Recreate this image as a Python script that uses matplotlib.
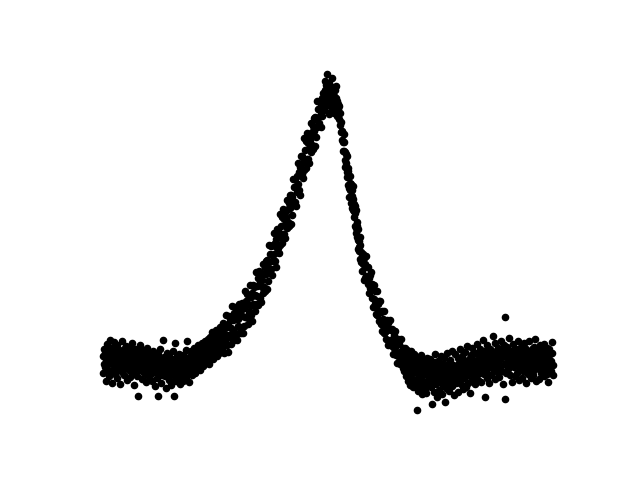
import matplotlib
matplotlib.use("Agg")
import matplotlib.pyplot as plt

# each entry: x position, then the y readings taken at that x
left_base = [
    (0, 55, 38), (1, 62, 47), (2, 44, 58), (3, 51, 30), (4, 67, 49), (5, 41, 56),
    (6, 60, 35), (7, 48, 71), (8, 53, 40), (9, 63, 28), (10, 46, 57), (11, 52, 69),
    (12, 37, 50), (13, 59, 44), (14, 66, 33), (15, 49, 55), (16, 42, 61), (17, 57, 27),
    (18, 45, 52), (19, 70, 39), (20, 54, 47), (21, 36, 62), (22, 58, 43), (23, 50, 65),
    (24, 31, 56), (25, 47, 60), (26, 64, 41), (27, 53, 34), (28, 45, 58), (29, 68, 49),
    (30, 39, 55), (31, 51, 26), (32, 62, 44), (33, 48, 57), (34, 35, 52), (35, 14, 60),
    (36, 46, 41), (37, 58, 66), (38, 43, 50), (39, 55, 32), (40, 49, 61), (41, 38, 53),
    (42, 57, 45), (43, 29, 48), (44, 63, 40), (45, 51, 35), (46, 44, 58), (47, 36, 52),
    (48, 55, 47), (49, 42, 30), (50, 60, 48), (51, 39, 53), (52, 46, 25), (53, 54, 41),
    (54, 33, 49), (55, 14, 57), (56, 45, 38), (57, 51, 62), (58, 28, 44), (59, 48, 36),
    (60, 71, 42), (61, 40, 54), (62, 35, 47), (63, 50, 23), (64, 43, 58), (65, 37, 46),
    (66, 55, 31), (67, 41, 49), (68, 26, 44), (69, 52, 38), (70, 45, 60), (71, 14, 35),
    (72, 68, 47), (73, 40, 30), (74, 49, 55), (75, 33, 43), (76, 57, 38), (77, 44, 27),
    (78, 36, 51), (79, 48, 41), (80, 30, 56), (81, 53, 39), (82, 42, 46), (83, 61, 34),
    (84, 70, 45), (85, 38, 52), (86, 47, 29), (87, 55, 43), (88, 40, 60), (89, 50, 36),
    (90, 58, 45), (91, 44, 63), (92, 52, 38), (93, 61, 47), (94, 48, 55), (95, 66, 42),
]

rise = [
    (96, 50, 62), (97, 41, 57), (98, 60, 48), (99, 54, 68), (100, 45, 63), (101, 59, 51),
    (102, 70, 55), (103, 48, 62), (104, 66, 57), (105, 53, 72), (106, 61, 47), (107, 74, 58),
    (108, 56, 68), (109, 63, 79), (110, 52, 70), (111, 67, 60), (112, 75, 58), (113, 62, 81),
    (114, 69, 55), (115, 80, 66), (116, 58, 73), (117, 71, 84), (118, 64, 76), (119, 83, 61),
    (120, 88, 65), (121, 78, 58), (122, 70, 86), (123, 96, 75), (124, 66, 84), (125, 87, 59),
    (126, 76, 95), (127, 92, 74), (128, 67, 83), (129, 105, 73), (130, 81, 91), (131, 98, 71),
    (132, 78, 104), (133, 92, 76), (134, 71, 98), (135, 92, 85), (136, 107, 78), (137, 84, 97),
    (138, 101, 78), (139, 95, 108), (140, 107, 78), (141, 85, 103), (142, 120, 94), (143, 94, 110),
    (144, 117, 94), (145, 107, 87), (146, 99, 115), (147, 126, 105), (148, 96, 114), (149, 118, 90),
    (150, 107, 126), (151, 124, 106), (152, 100, 116), (153, 139, 107), (154, 115, 125),
    (155, 133, 106), (156, 114, 140), (157, 129, 113), (158, 109, 136), (159, 131, 124),
    (160, 147, 118), (161, 124, 137), (162, 143, 120), (163, 137, 150), (164, 151, 122),
    (165, 130, 148), (166, 166, 140), (167, 141, 157), (168, 165, 142), (169, 156, 136),
    (170, 150, 166), (171, 178, 157), (172, 150, 168), (173, 172, 144), (174, 163, 182),
    (175, 181, 163), (176, 158, 174), (177, 198, 166), (178, 176, 186), (179, 195, 168),
    (180, 177, 203), (181, 193, 177), (182, 173, 200), (183, 195, 188), (184, 212, 183),
    (185, 190, 203), (186, 209, 186), (187, 204, 217), (188, 217, 188), (189, 197, 215),
    (190, 233, 207), (191, 209, 225), (192, 233, 210), (193, 226, 206), (194, 220, 236),
    (195, 249, 228), (196, 222, 240), (197, 245, 217), (198, 237, 256), (199, 256, 238),
    (200, 234, 250), (201, 274, 242), (202, 252, 262), (203, 271, 244), (204, 253, 279),
    (205, 269, 253), (206, 249, 276), (207, 272, 265), (208, 289, 260), (209, 267, 280),
    (210, 286, 263), (211, 281, 294), (212, 295, 266), (213, 275, 293), (214, 311, 285),
    (215, 287, 303),
]

peak = [
    (216, 303, 289), (217, 296, 311), (218, 308, 300, 285), (219, 314, 296), (220, 305, 319),
    (221, 311, 302), (222, 322, 309, 331), (223, 316, 327), (224, 338, 312), (225, 320, 307),
    (226, 329, 315, 298), (227, 310, 323), (228, 318, 301), (229, 325, 313, 334), (230, 305, 320),
    (231, 316, 299), (232, 309, 322), (233, 300, 314, 326), (234, 311, 296), (235, 303, 308),
    (236, 293, 306), (237, 299, 287), (238, 290, 280), (239, 281, 272), (240, 270, 261),
]

fall = [
    (241, 278, 261, 270), (242, 260, 245, 252), (243, 245, 258, 249), (244, 256, 240, 235),
    (245, 227, 241, 244), (246, 236, 215, 224), (247, 222, 236, 229), (248, 228, 215, 209),
    (249, 204, 216, 222), (250, 226, 202, 213), (251, 201, 208, 195), (252, 206, 186, 199),
    (253, 183, 202, 178), (254, 186, 174, 190), (255, 162, 182, 171), (256, 170, 164, 160),
    (257, 174, 152, 166), (258, 149, 159, 151), (259, 157, 140), (260, 147, 157),
    (261, 153, 131), (262, 133, 147), (263, 155, 135), (264, 132, 144), (265, 144, 127),
    (266, 133, 118), (267, 123, 136), (268, 139, 123), (269, 113, 127), (270, 125, 104),
    (271, 112, 126), (272, 120, 107), (273, 97, 109), (274, 120, 96), (275, 100, 107),
    (276, 110, 90), (277, 91, 110), (278, 99, 87), (279, 80, 100), (280, 92, 86),
    (281, 100, 78), (282, 79, 89), (283, 89, 72), (284, 81, 91), (285, 88, 66),
    (286, 68, 82), (287, 91, 71), (288, 69, 81), (289, 82, 65), (290, 72, 57),
    (291, 63, 76), (292, 80, 64), (293, 56, 70), (294, 69, 48), (295, 58, 72),
    (296, 67, 54), (297, 47, 59), (298, 72, 48), (299, 53, 60), (300, 63, 43),
]

right_base = [
    (301, 58, 40), (302, 44, 63), (303, 35, 52), (304, 61, 41), (305, 47, 30), (306, 55, 38),
    (307, 26, 49), (308, 42, 60), (309, 33, 45), (310, 51, 24), (311, 39, 57), (312, 46, 28),
    (313, 31, 43), (314, 0, 52), (315, 37, 20), (316, 48, 34), (317, 25, 41), (318, 56, 30),
    (319, 35, 17), (320, 43, 50), (321, 29, 38), (322, 47, 22), (323, 18, 40), (324, 36, 53),
    (325, 44, 27), (326, 31, 46), (327, 52, 35), (328, 24, 39), (329, 6, 42), (330, 38, 28),
    (331, 49, 19), (332, 33, 57), (333, 27, 44), (334, 41, 13), (335, 36, 50), (336, 21, 32),
    (337, 45, 38), (338, 30, 55), (339, 40, 16), (340, 26, 47), (341, 53, 34), (342, 8, 37),
    (343, 44, 23), (344, 32, 58), (345, 39, 28), (346, 20, 48), (347, 51, 35), (348, 37, 42),
    (349, 25, 60), (350, 46, 31), (351, 34, 15), (352, 57, 40), (353, 28, 45), (354, 42, 36),
    (355, 19, 53), (356, 48, 30), (357, 38, 62), (358, 27, 44), (359, 55, 35), (360, 41, 22),
    (361, 33, 50), (362, 59, 39), (363, 24, 46), (364, 44, 65), (365, 36, 28), (366, 52, 41),
    (367, 47, 18), (368, 30, 56), (369, 63, 43), (370, 39, 51), (371, 49, 34), (372, 58, 27),
    (373, 35, 46), (374, 45, 67), (375, 52, 31), (376, 41, 59), (377, 62, 38), (378, 29, 50),
    (379, 48, 44), (380, 55, 71), (381, 37, 46), (382, 13, 60), (383, 50, 40), (384, 66, 33),
    (385, 43, 57), (386, 54, 28), (387, 47, 62), (388, 36, 52), (389, 60, 44), (390, 51, 75),
    (391, 41, 55), (392, 68, 32), (393, 46, 58), (394, 57, 39), (395, 49, 63), (396, 34, 52),
    (397, 62, 45), (398, 53, 70), (399, 40, 58), (400, 59, 27), (401, 47, 66), (402, 94, 11),
    (403, 55, 38), (404, 64, 49), (405, 42, 57), (406, 51, 73), (407, 36, 60), (408, 58, 45),
    (409, 48, 29), (410, 67, 53), (411, 44, 61), (412, 56, 35), (413, 62, 47), (414, 38, 55),
    (415, 53, 70), (416, 46, 31), (417, 60, 42), (418, 50, 64), (419, 33, 49), (420, 57, 40),
    (421, 45, 68), (422, 63, 52), (423, 39, 28), (424, 54, 59), (425, 48, 37), (426, 70, 46),
    (427, 42, 55), (428, 59, 33), (429, 51, 62), (430, 36, 47), (431, 64, 41), (432, 47, 72),
    (433, 55, 30), (434, 43, 58), (435, 61, 50), (436, 32, 45), (437, 52, 66), (438, 46, 38),
    (439, 58, 54), (440, 40, 61), (441, 67, 35), (442, 49, 52), (443, 56, 44), (444, 37, 63),
    (445, 53, 29), (446, 62, 48), (447, 44, 57), (448, 50, 40), (449, 58, 69), (450, 46, 36),
]


def main():
    xs, ys = [], []
    for segment in (left_base, rise, peak, fall, right_base):
        for x, *readings in segment:
            for y in readings:
                xs.append(x)
                ys.append(y)

    fig, ax = plt.subplots(figsize=(6.4, 4.8), dpi=100)
    ax.scatter(xs, ys, s=20, color="black")
    ax.axis("off")
    fig.savefig("out.png")


if __name__ == "__main__":
    main()
